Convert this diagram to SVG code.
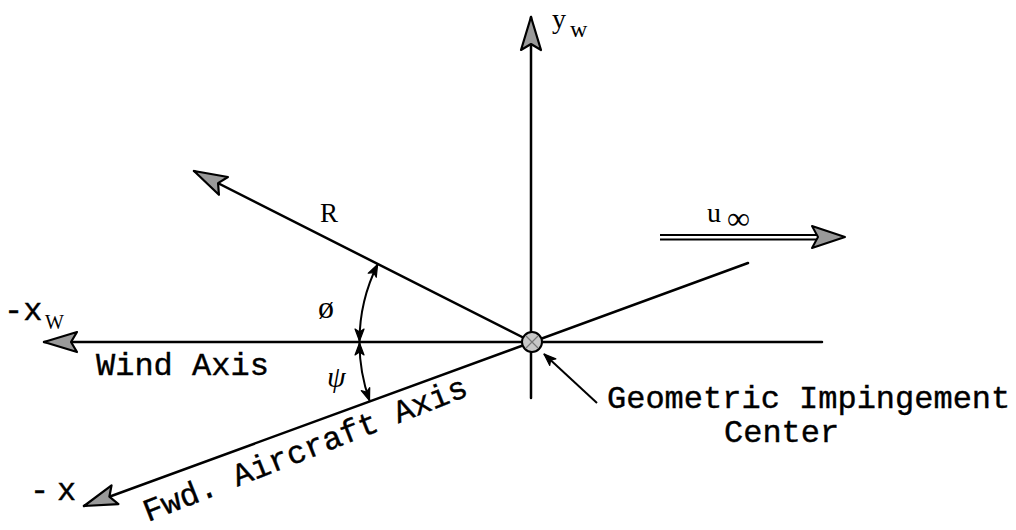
<svg xmlns="http://www.w3.org/2000/svg" width="1016" height="530" viewBox="0 0 1016 530">
<style>
.ln{stroke:#000;stroke-width:2.5;fill:none;stroke-linecap:round}
.arc{stroke:#000;stroke-width:2;fill:none}
.mono{font-family:"Liberation Mono","Courier New",monospace;font-size:32px;fill:#000;stroke:#000;stroke-width:0.4}
.ser{font-family:"Liberation Serif","Times New Roman",serif;fill:#000}
</style>
<defs>
<marker id="big" markerUnits="userSpaceOnUse" viewBox="-36 -13 40 26" markerWidth="40" markerHeight="26" refX="0" refY="0" orient="auto-start-reverse">
<path d="M0,0 L-33,-10 L-27,0 L-33,10 Z" fill="#9a9a9a" stroke="#000" stroke-width="2.2" stroke-linejoin="round"/>
</marker>
<marker id="sm" markerUnits="userSpaceOnUse" viewBox="-14 -7 16 14" markerWidth="16" markerHeight="14" refX="0" refY="0" orient="auto-start-reverse">
<path d="M0,0 L-12,-4.5 L-9,0 L-12,4.5 Z" fill="#000" stroke="#000" stroke-width="1.2" stroke-linejoin="round"/>
</marker>
</defs>
<g id="connectors">
<line class="ln" x1="531" y1="398" x2="531" y2="17" marker-end="url(#big)"/>
<line class="ln" x1="822" y1="342" x2="44" y2="342" marker-end="url(#big)"/>
<line class="ln" x1="748" y1="263" x2="84" y2="506" marker-end="url(#big)"/>
<line class="ln" x1="532" y1="342" x2="194" y2="171" marker-end="url(#big)"/>
<path class="arc" d="M377.6,264.5 A173,173 0 0 0 359.5,341" marker-start="url(#sm)" marker-end="url(#sm)"/>
<path class="arc" d="M359.5,343 A173,173 0 0 0 369.5,400.5" marker-start="url(#sm)" marker-end="url(#sm)"/>
<line class="arc" x1="597" y1="403" x2="544" y2="354" marker-end="url(#sm)"/>
<g id="uinf-arrow">
<line x1="660" y1="235" x2="818" y2="235" stroke="#000" stroke-width="1.8"/>
<line x1="660" y1="239.5" x2="818" y2="239.5" stroke="#000" stroke-width="1.8"/>
<path d="M845,237 L812,226 L818,237 L812,248 Z" fill="#9a9a9a" stroke="#000" stroke-width="2" stroke-linejoin="round"/>
</g>
</g>
<g id="center">
<circle cx="532" cy="342" r="10" fill="#c8c8c8" stroke="#000" stroke-width="2"/>
<path d="M526,336 L538,348 M538,336 L526,348" stroke="#777" stroke-width="1.2"/>
</g>
<g id="labels">
<text class="ser" x="552" y="28" font-size="28">y</text>
<text class="ser" x="570" y="37" font-size="24">w</text>
<text class="ser" x="707" y="222" font-size="28">u</text>
<text class="ser" x="727" y="229" font-size="32">∞</text>
<text class="ser" x="329" y="222" font-size="27" text-anchor="middle">R</text>
<text class="ser" x="318" y="318" font-size="32">ø</text>
<text class="ser" x="327" y="387" font-size="30" font-style="italic">ψ</text>
<text class="mono" x="4" y="320">-x</text>
<text class="ser" x="45" y="329" font-size="20">W</text>
<text class="mono" x="30" y="500">-<tspan x="57">x</tspan></text>
<text class="mono" x="96" y="375">Wind Axis</text>
<text class="mono" transform="translate(148,522) rotate(-21.5)">Fwd. Aircraft Axis</text>
<text class="mono" x="607" y="408">Geometric Impingement</text>
<text class="mono" x="724" y="442">Center</text>
</g>
</svg>
